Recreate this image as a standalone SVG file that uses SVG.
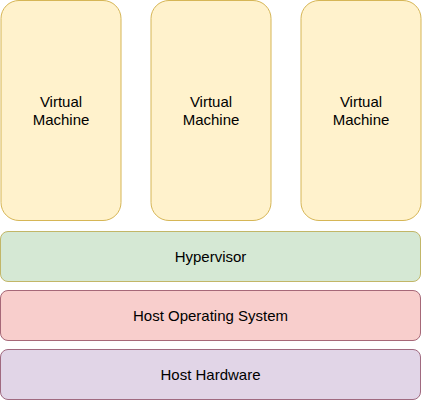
<svg xmlns="http://www.w3.org/2000/svg" width="422" height="400" viewBox="0 0 422 400">
<style>
text{font-family:"Liberation Sans",Arial,Helvetica,sans-serif;font-size:15px;fill:#000;text-anchor:middle}
.vm{fill:#fff2cc;stroke:#d6b656}
.hv{fill:#d5e8d4;stroke:#c2b668}
.os{fill:#f8cecc;stroke:#a66878}
.hw{fill:#e1d5e7;stroke:#a06a80}
</style>
<rect width="422" height="400" fill="#fff"/>
<g id="vm1"><rect class="vm" x="1" y="0.5" width="120" height="220" rx="18"/><text x="61" y="107">Virtual</text><text x="61" y="125">Machine</text></g>
<g id="vm2"><rect class="vm" x="151" y="0.5" width="120" height="220" rx="18"/><text x="211" y="107">Virtual</text><text x="211" y="125">Machine</text></g>
<g id="vm3"><rect class="vm" x="301" y="0.5" width="120" height="220" rx="18"/><text x="361" y="107">Virtual</text><text x="361" y="125">Machine</text></g>
<g id="hypervisor"><rect class="hv" x="0.5" y="231.5" width="420" height="50" rx="7.5"/><text x="210.5" y="262">Hypervisor</text></g>
<g id="hostos"><rect class="os" x="0.5" y="290.5" width="420" height="50" rx="7.5"/><text x="210.5" y="321">Host Operating System</text></g>
<g id="hosthw"><rect class="hw" x="0.5" y="349.5" width="420" height="50" rx="7.5"/><text x="210.5" y="380">Host Hardware</text></g>
<g id="connectors"/>
</svg>
